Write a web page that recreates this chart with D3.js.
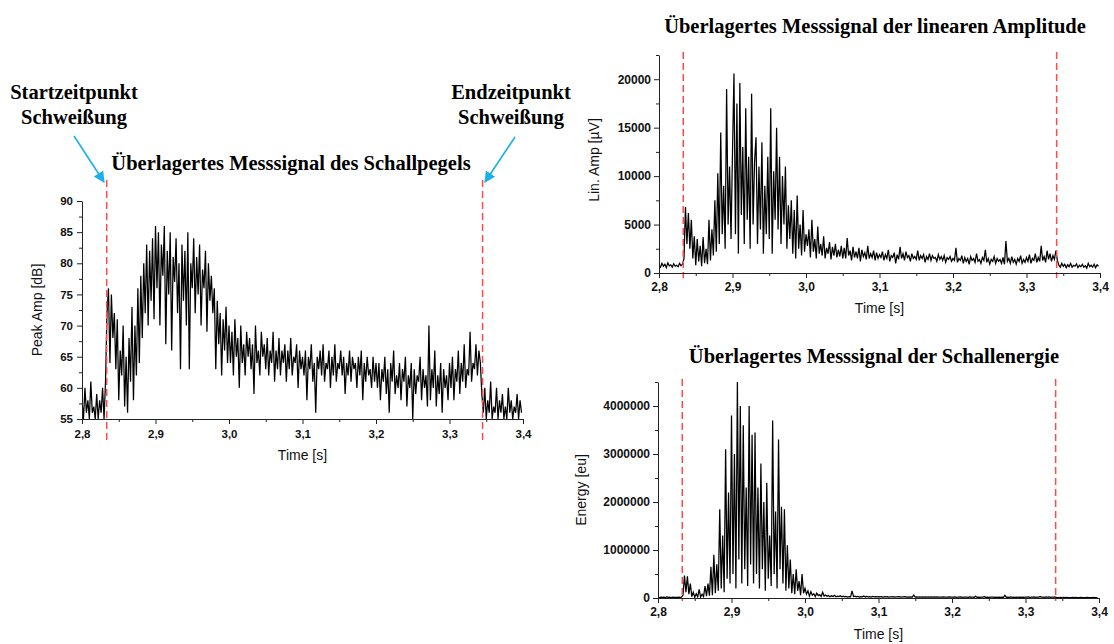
<!DOCTYPE html>
<html><head><meta charset="utf-8">
<script src="https://cdn.jsdelivr.net/npm/d3@7/dist/d3.min.js"></script>
<style>
body{margin:0;background:#fff;}
svg{display:block;}
.tick text{font-family:Arial,"Liberation Sans",sans-serif;font-weight:bold;fill:#111;}
.domain,.tick line{stroke:#222;stroke-width:1;}
</style></head>
<body>
<svg id="c" width="1114" height="644"></svg>
<script>
// ---- data (sampled every 2 ms from 2.800 s) ----
const tStart = 2.8, tStep = 0.002;
const xTicks = [2.8, 2.9, 3.0, 3.1, 3.2, 3.3, 3.4];
const weldLeft = [2.8336, 3.345];
const weldRight = [2.833, 3.341];

const peakAmp = [
58,55,60,56,58,55,61,56,57,55,59,55,58,56,60,55,61,
72,
76,64,75,68,72,
63,71,58,66,62,70,57,65,56,68,61,73,58,
70,62,76,64,78,
68,80,72,83,70,82,74,84,71,86,
76,85,70,83,78,86,67,82,75,85,66,81,77,84,72,
80,63,83,74,82,70,85,63,80,76,
84,72,81,75,83,70,79,76,82,69,80,74,78,72,
76,63,74,67,72,62,71,66,73,64,70,
64,69,62,71,65,68,60,70,64,67,62,69,65,68,63,67,59,70,64,66,62,69,65,67,63,
68,62,66,64,69,61,66,63,68,62,66,64,67,61,66,63,68,62,65,64,67,60,66,63,65,
62,66,58,65,63,67,61,64,56,65,63,66,62,67,61,64,63,66,60,65,62,67,61,64,63,66,62,65,59,64,62,66,61,65,63,64,60,65,62,66,58,64,61,65,62,63,60,65,61,64,
60,64,58,63,61,65,59,63,56,64,61,66,59,62,60,64,58,63,61,65,57,62,60,64,55,63,59,62,61,65,58,63,60,62,57,70,58,63,60,66,57,62,59,64,56,63,60,62,58,64,
60,65,58,63,61,66,59,64,61,67,60,63,62,69,61,64,63,67,62,66,64,
59,56,60,55,58,56,61,55,57,56,60,55,58,56,59,55,57,55,60,56,58,55,57,56,59,55,58,56
];

const linAmp = [
800,600,1000,700,900,550,1050,750,850,600,950,700,800,650,1000,750,900,
1500,
6800,3000,6200,2500,5500,
1500,3800,800,3500,1200,2800,700,3700,1000,2500,900,5500,1300,
4500,1800,7500,2200,10300,
3000,14500,4000,9000,2500,19000,5000,11000,3500,12500,
20600,4000,17500,2000,19600,6000,13000,3000,17000,5500,12000,2500,18500,5000,11500,
14000,3000,11000,4500,13500,2000,9000,4000,12000,3500,
17000,2000,10500,5500,15000,4500,12000,3000,10000,5000,11000,2500,7000,3500,
7500,2000,6500,1500,8000,2500,5000,1800,6500,2200,4000,
2800,4500,1600,5500,2200,3500,1500,4800,2000,3000,1800,3800,1500,2600,2000,3200,1400,2700,1800,3000,1600,2400,1700,2800,1500,
2600,1500,3600,1800,2300,1300,2700,1600,2200,1500,2600,1200,2400,1700,2100,1400,2800,1500,2000,1600,2300,1300,2100,1500,1900,
1600,2200,1300,1900,1500,2400,1200,1800,1600,2100,1000,1900,1400,2700,1500,2000,1300,2200,1600,1800,1200,2000,1500,1700,1400,2300,1300,1800,1500,1900,1100,1700,1400,2000,1300,1800,1500,1600,1200,1900,1400,1700,1300,1800,1100,1600,1400,1700,1200,1500,
1300,2600,1100,1500,1300,1800,1000,1600,1200,1500,900,1700,1300,1500,1100,2000,1200,1400,1000,1600,1300,2400,1100,1500,900,1400,1200,1700,1000,1500,1200,1400,1000,1600,900,3300,1200,1500,1000,1700,1100,1400,900,1500,1200,1800,1000,1400,1100,1600,
1200,1900,1000,1500,1300,2000,1100,1600,1200,2800,1300,1700,1100,2300,1400,2000,1200,1800,1400,2300,1300,
800,600,1000,700,900,550,850,650,1000,600,800,700,950,550,800,650,900,600,750,500,1000,650,800,600,900,550,850,700
];

// energy in thousands of eu
const energyK = [
15,10,20,12,18,8,22,14,16,10,19,12,15,11,20,13,17,
60,
470,120,450,80,300,
30,120,15,90,25,180,20,80,30,250,40,300,50,
650,60,900,100,700,
150,1850,200,1300,120,3100,400,2200,300,3800,
500,3000,200,4500,800,4000,300,3600,600,2300,250,4000,700,3400,300,
3450,500,2300,200,2800,600,2000,150,2400,400,
1300,250,3700,500,1800,200,3300,600,1900,300,1850,150,1100,200,
800,100,500,80,600,150,350,60,500,100,200,
80,150,40,130,60,90,30,100,50,70,30,120,40,60,35,50,25,45,30,55,25,40,30,45,25,
40,25,35,20,30,25,150,30,40,25,35,20,30,25,40,22,35,25,30,20,35,25,30,22,28,
25,30,20,28,22,30,20,25,22,28,20,25,22,30,20,25,22,28,20,25,20,24,18,60,20,25,18,22,20,25,18,22,20,24,18,22,20,25,18,22,18,20,16,22,18,20,16,22,18,20,
18,22,15,20,18,22,15,20,16,20,15,22,16,20,15,35,16,20,15,18,16,30,15,18,14,18,16,20,14,18,15,18,14,20,14,55,15,18,14,22,15,18,14,18,15,20,14,18,15,20,
16,22,14,18,16,22,15,18,16,30,16,20,15,25,16,22,15,20,16,24,15,
10,8,12,9,11,8,12,9,10,8,11,9,12,8,10,9,11,8,10,7,12,9,10,8,11,8,10,9
];

// ---- drawing ----
const svg = d3.select("#c");
const serif = '"Liberation Serif","Times New Roman",serif';
const sans = 'Arial,"Liberation Sans",sans-serif';
const fmtX = d => d3.format(".1f")(d).replace(".", ",");

function panel(o) {
  const x = d3.scaleLinear().domain([2.8, 3.4]).range([o.x0, o.x1]);
  const y = d3.scaleLinear().domain(o.yDomain).range([o.y1, o.y0]);
  const g = svg.append("g");
  const id = "clip" + o.name;
  svg.append("clipPath").attr("id", id).append("rect")
    .attr("x", o.x0).attr("y", o.y0 - 2).attr("width", o.x1 - o.x0).attr("height", o.y1 - o.y0 + 2);

  const line = d3.line().x((d, i) => x(tStart + i * tStep)).y(d => y(d * (o.mult || 1)));
  g.append("path").datum(o.data).attr("clip-path", `url(#${id})`)
    .attr("fill", "none").attr("stroke", "#000").attr("stroke-width", 1.25)
    .attr("stroke-linejoin", "miter").attr("d", line);

  // weld markers
  o.marks.forEach(m => {
    g.append("line").attr("x1", x(m)).attr("x2", x(m))
      .attr("y1", o.mTop).attr("y2", o.mBot)
      .attr("stroke", "#ff4a4a").attr("stroke-width", 1.5).attr("stroke-dasharray", "7,4");
  });

  // x axis
  const minorX = d3.range(2.85, 3.4, 0.1);
  g.append("g").attr("transform", `translate(0,${o.y1})`)
    .call(d3.axisBottom(x).tickValues(minorX).tickSize(3).tickFormat(""))
    .call(s => s.select(".domain").remove());
  g.append("g").attr("transform", `translate(0,${o.y1})`)
    .call(d3.axisBottom(x).tickValues(xTicks).tickSize(5).tickSizeOuter(0).tickPadding(o.xPad).tickFormat(fmtX))
    .call(s => s.selectAll("text").attr("font-size", o.fs));

  // y axis
  g.append("g").attr("transform", `translate(${o.x0},0)`)
    .call(d3.axisLeft(y).tickValues(o.yMinor).tickSize(3).tickFormat(""))
    .call(s => s.select(".domain").remove());
  g.append("g").attr("transform", `translate(${o.x0},0)`)
    .call(d3.axisLeft(y).tickValues(o.yTicks).tickSize(5).tickSizeOuter(0).tickPadding(o.yPad).tickFormat(d3.format("d")))
    .call(s => s.selectAll("text").attr("font-size", o.fs));

  // titles
  svg.append("text").attr("x", (o.x0 + o.x1) / 2).attr("y", o.xtY)
    .attr("text-anchor", "middle").attr("font-family", sans).attr("font-size", 14).attr("fill", "#111")
    .text("Time [s]");
  svg.append("text").attr("transform", `translate(${o.ylX},${o.ylY}) rotate(-90)`)
    .attr("text-anchor", "middle").attr("font-family", sans).attr("font-size", 14).attr("fill", "#111")
    .text(o.yLabel);
  svg.append("text").attr("x", o.tX).attr("y", o.tY).attr("text-anchor", "middle")
    .attr("font-family", serif).attr("font-weight", "bold").attr("font-size", 20.5).attr("fill", "#000")
    .text(o.title);
}

panel({name: "a", x0: 82, x1: 523, y0: 201, y1: 419, yDomain: [55, 90],
  yTicks: [55, 60, 65, 70, 75, 80, 85, 90], yMinor: d3.range(57.5, 90, 5),
  data: peakAmp, marks: weldLeft, mTop: 180, mBot: 442, fs: 11.5, xPad: 6, yPad: 4,
  xtY: 460, yLabel: "Peak Amp [dB]", ylX: 42, ylY: 310,
  title: "Überlagertes Messsignal des Schallpegels", tX: 291, tY: 170});

panel({name: "b", x0: 659, x1: 1100, y0: 55, y1: 273, yDomain: [0, 22500],
  yTicks: [0, 5000, 10000, 15000, 20000], yMinor: d3.range(2500, 22501, 5000),
  data: linAmp, marks: weldRight, mTop: 52, mBot: 278, fs: 12, xPad: 4, yPad: 3,
  xtY: 313, yLabel: "Lin. Amp [µV]", ylX: 599, ylY: 160,
  title: "Überlagertes Messsignal der linearen Amplitude", tX: 875, tY: 33});

panel({name: "c", x0: 658, x1: 1099, y0: 382, y1: 598, yDomain: [0, 4500000], mult: 1000,
  yTicks: [0, 1000000, 2000000, 3000000, 4000000], yMinor: d3.range(500000, 4500001, 1000000),
  data: energyK, marks: weldRight, mTop: 379, mBot: 601, fs: 12, xPad: 4, yPad: 3,
  xtY: 639, yLabel: "Energy [eu]", ylX: 586, ylY: 490,
  title: "Überlagertes Messsignal der Schallenergie", tX: 874, tY: 363});

// annotations
function ann(cx, lines) {
  lines.forEach((t, i) => svg.append("text").attr("x", cx).attr("y", 99 + i * 25)
    .attr("text-anchor", "middle").attr("font-family", serif).attr("font-weight", "bold")
    .attr("font-size", 20.5).attr("fill", "#000").text(t));
}
ann(74, ["Startzeitpunkt", "Schweißung"]);
ann(511, ["Endzeitpunkt", "Schweißung"]);

const defs = svg.append("defs");
defs.append("marker").attr("id", "ah").attr("viewBox", "0 0 10 10").attr("refX", 9).attr("refY", 5)
  .attr("markerWidth", 7).attr("markerHeight", 7).attr("orient", "auto")
  .append("path").attr("d", "M0,0 L10,5 L0,10 Z").attr("fill", "#1ab0ee");
svg.append("line").attr("x1", 74).attr("y1", 136).attr("x2", 104).attr("y2", 182)
  .attr("stroke", "#1ab0ee").attr("stroke-width", 1.6).attr("marker-end", "url(#ah)");
svg.append("line").attr("x1", 515).attr("y1", 137).attr("x2", 485).attr("y2", 182)
  .attr("stroke", "#1ab0ee").attr("stroke-width", 1.6).attr("marker-end", "url(#ah)");
</script>
</body></html>
